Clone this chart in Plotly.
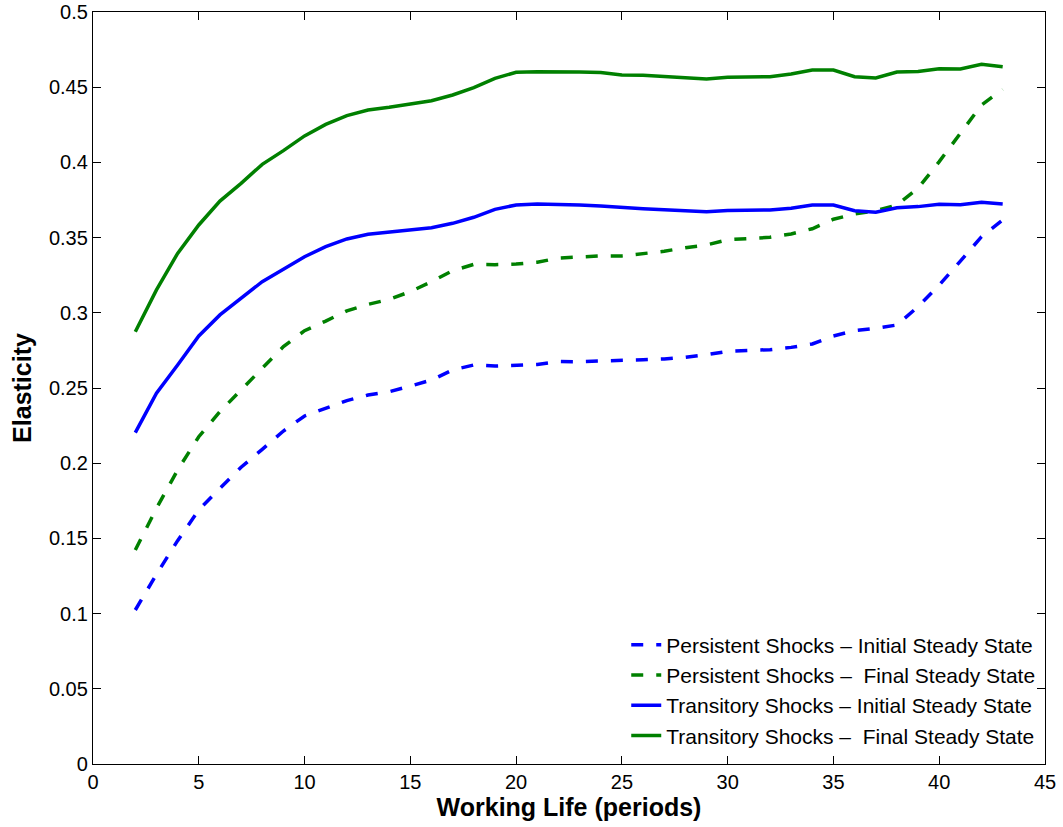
import plotly.graph_objects as go

periods = list(range(2, 44))

persistent_initial = [0.1024, 0.1261, 0.1485, 0.1689, 0.1833, 0.1973, 0.2092, 0.2214, 0.2314, 0.2365,
                      0.2416, 0.2453, 0.2475, 0.2513, 0.2553, 0.2620, 0.2653, 0.2646, 0.2651, 0.2657,
                      0.2676, 0.2675, 0.2680, 0.2682, 0.2688, 0.2693, 0.2704, 0.2721, 0.2744, 0.2750,
                      0.2755, 0.2770, 0.2793, 0.2846, 0.2881, 0.2897, 0.2919, 0.3041, 0.3185, 0.3344,
                      0.3506, 0.3617]

persistent_final = [0.1423, 0.1700, 0.1955, 0.2176, 0.2343, 0.2491, 0.2631, 0.2775, 0.2881, 0.2945,
                    0.3013, 0.3056, 0.3089, 0.3141, 0.3207, 0.3280, 0.3322, 0.3320, 0.3324, 0.3336,
                    0.3364, 0.3371, 0.3378, 0.3378, 0.3391, 0.3409, 0.3433, 0.3451, 0.3486, 0.3495,
                    0.3502, 0.3524, 0.3559, 0.3622, 0.3657, 0.3679, 0.3717, 0.3828, 0.4005, 0.4193,
                    0.4382, 0.4486]

transitory_initial = [0.2203, 0.2465, 0.2653, 0.2846, 0.2986, 0.3096, 0.3207, 0.3289, 0.3373, 0.3440,
                      0.3491, 0.3522, 0.3535, 0.3551, 0.3566, 0.3595, 0.3635, 0.3688, 0.3717, 0.3723,
                      0.3721, 0.3717, 0.3710, 0.3699, 0.3692, 0.3686, 0.3681, 0.3672, 0.3681, 0.3684,
                      0.3684, 0.3695, 0.3717, 0.3717, 0.3679, 0.3668, 0.3699, 0.3706, 0.3721, 0.3719,
                      0.3735, 0.3723]

transitory_final = [0.2874, 0.3152, 0.3395, 0.3584, 0.3743, 0.3861, 0.3987, 0.4078, 0.4176, 0.4253,
                    0.4311, 0.4348, 0.4366, 0.4388, 0.4410, 0.4448, 0.4497, 0.4559, 0.4599, 0.4603,
                    0.4604, 0.4601, 0.4597, 0.4581, 0.4579, 0.4570, 0.4563, 0.4555, 0.4566, 0.4568,
                    0.4570, 0.4588, 0.4614, 0.4614, 0.4570, 0.4561, 0.4601, 0.4605, 0.4623, 0.4621,
                    0.4652, 0.4636]

series_names = [
    "Persistent Shocks \u2013 Initial Steady State",
    "Persistent Shocks \u2013 \u00a0Final Steady State",
    "Transitory Shocks \u2013 Initial Steady State",
    "Transitory Shocks \u2013 \u00a0Final Steady State",
]

x_ticks = [0, 5, 10, 15, 20, 25, 30, 35, 40, 45]
y_ticks = [0, 0.05, 0.1, 0.15, 0.2, 0.25, 0.3, 0.35, 0.4, 0.45, 0.5]
y_tick_labels = ["0", "0.05", "0.1", "0.15", "0.2", "0.25", "0.3", "0.35", "0.4", "0.45", "0.5"]

BLUE = "#0000ff"
GREEN = "#008000"
DASH = "12px,13px"
FONT = "Liberation Sans, Arial, Helvetica, sans-serif"

fig = go.Figure()
series = [
    (persistent_initial, BLUE, DASH),
    (persistent_final, GREEN, DASH),
    (transitory_initial, BLUE, "solid"),
    (transitory_final, GREEN, "solid"),
]
for i, (vals, col, dash) in enumerate(series):
    fig.add_trace(go.Scatter(
        x=periods, y=vals, mode="lines", name=series_names[i],
        line=dict(color=col, width=3.5, dash=dash),
    ))

axis_common = dict(
    showgrid=False, zeroline=False, showline=True, linecolor="black", linewidth=1.3,
    mirror="allticks", ticks="inside", ticklen=8, tickwidth=1, tickcolor="black",
    tickfont=dict(family=FONT, size=20, color="black"),
)

fig.update_xaxes(
    range=[0, 45], tickvals=x_ticks, ticktext=[str(v) for v in x_ticks],
    title=dict(text="<b>Working Life (periods)</b>", font=dict(family=FONT, size=25, color="black"), standoff=6),
    **axis_common,
)
fig.update_yaxes(
    range=[0, 0.5], tickvals=y_ticks, ticktext=y_tick_labels,
    title=dict(text="<b>Elasticity</b>", font=dict(family=FONT, size=25, color="black"), standoff=10),
    **axis_common,
)

fig.update_layout(
    width=1063, height=827,
    margin=dict(l=93, r=18, t=12, b=63, autoexpand=False),
    paper_bgcolor="white", plot_bgcolor="white",
    font=dict(family=FONT, color="black"),
    legend=dict(
        x=0.995, y=0.01, xanchor="right", yanchor="bottom",
        font=dict(family=FONT, size=21, color="black"),
        bgcolor="rgba(255,255,255,0)", borderwidth=0,
    ),
)

fig.write_html("out.html")
